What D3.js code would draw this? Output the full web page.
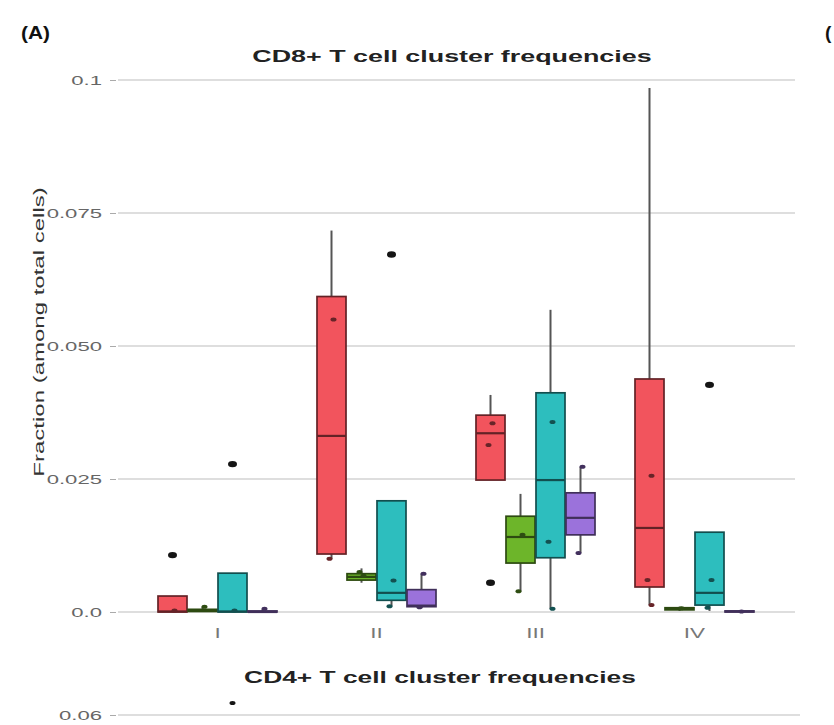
<!DOCTYPE html>
<html>
<head>
<meta charset="utf-8">
<script src="https://cdn.jsdelivr.net/npm/d3@7"></script>
<style>
  html, body { margin: 0; padding: 0; background: #fff; }
  svg { display: block; }
  text { font-family: "Liberation Sans", Arial, Helvetica, sans-serif; }
</style>
</head>
<body>
<svg id="chart" width="834" height="725"></svg>
<script>
// ---- data -------------------------------------------------------------
const clusters = ["I", "II", "III", "IV"];
const groupKeys = ["g1", "g2", "g3", "g4"];
const groupColors = ["#F2545D", "#6DB52A", "#2DBEBE", "#9B72DB"];

const yTicks = [0, 0.025, 0.05, 0.075, 0.1];
const yTickLabels = ["0.0", "0.025", "0.050", "0.075", "0.1"];

// box statistics, one row per group, one column per cluster
const lowerWhisker = [
  [0.0000, 0.0100, 0.0248, 0.0013],
  [0.0000, 0.0055, 0.0039, 0.0002],
  [0.0000, 0.0011, 0.0006, 0.0002],
  [0.0000, 0.0007, 0.0111, 0.0000]
];
const q1 = [
  [0.0000, 0.0109, 0.0248, 0.0047],
  [0.0001, 0.0060, 0.0092, 0.0004],
  [0.0000, 0.0022, 0.0102, 0.0013],
  [0.0000, 0.0010, 0.0145, 0.0000]
];
const median = [
  [0.0001, 0.0331, 0.0336, 0.0158],
  [0.0003, 0.0066, 0.0141, 0.0006],
  [0.0001, 0.0036, 0.0248, 0.0036],
  [0.0000, 0.0012, 0.0177, 0.0001]
];
const q3 = [
  [0.0030, 0.0593, 0.0370, 0.0438],
  [0.0005, 0.0072, 0.0180, 0.0008],
  [0.0073, 0.0209, 0.0412, 0.0150],
  [0.0002, 0.0042, 0.0224, 0.0002]
];
const upperWhisker = [
  [0.0030, 0.0717, 0.0408, 0.0985],
  [0.0010, 0.0082, 0.0222, 0.0010],
  [0.0073, 0.0209, 0.0568, 0.0150],
  [0.0005, 0.0072, 0.0273, 0.0003]
];
// [group, cluster, value]
const outliers = [
  [0, 0, 0.0107], [2, 0, 0.0278], [2, 1, 0.0672], [0, 2, 0.0055], [2, 3, 0.0427]
];
// individual samples drawn over the boxes
const samples = [
  [[0.0003], [0.0550, 0.0100], [0.0355, 0.0314], [0.0256, 0.0060, 0.0013]],
  [[0.0010], [0.0068, 0.0075], [0.0145, 0.0039], [0.0007]],
  [[0.0003], [0.0059, 0.0011], [0.0357, 0.0132, 0.0006], [0.0060, 0.0008]],
  [[0.0006], [0.0072, 0.0009], [0.0273, 0.0111], [0.0001]]
];

// second panel (only its top edge is in view)
const cd4Ticks = [0.06];
const cd4TickLabels = ["0.06"];
const cd4Outliers = [[2, 0, 0.0615]];

// ---- layout -----------------------------------------------------------
const svg = d3.select("#chart");
const stretch = 1.65;           // figure text is rendered wide
const gridX0 = 118, gridX1 = 795;

const x = d3.scaleBand().domain(clusters).range([138, 774]).padding(0);
const xInner = d3.scaleBand().domain(groupKeys).range([-60, 60]).padding(0);
const y = d3.scaleLinear().domain([0, 0.1]).range([612, 80]);
const y2 = d3.scaleLinear().domain([0, 0.06]).range([1200, 715]);

function cx(g, c) {
  return x(clusters[c]) + x.bandwidth() / 2 + xInner(groupKeys[g]) + xInner.bandwidth() / 2;
}
function widen(sel, k) {
  sel.each(function () {
    const w = this.getComputedTextLength();
    d3.select(this).attr("textLength", w * k).attr("lengthAdjust", "spacingAndGlyphs");
  });
}

// ---- panel labels and titles -----------------------------------------
svg.append("text").attr("x", 21).attr("y", 39)
  .attr("font-size", 19).attr("font-weight", "bold").attr("fill", "#111")
  .text("(A)").call(widen, 1.1);
svg.append("text").attr("x", 825).attr("y", 39)
  .attr("font-size", 19).attr("font-weight", "bold").attr("fill", "#111")
  .text("(");

svg.append("text").attr("x", 452).attr("y", 62)
  .attr("text-anchor", "middle").attr("font-size", 17).attr("font-weight", "bold")
  .attr("fill", "#222").text("CD8+ T cell cluster frequencies").call(widen, 1.58);

svg.append("text")
  .attr("transform", "translate(44,332) rotate(-90)")
  .attr("text-anchor", "middle").attr("font-size", 15).attr("fill", "#333")
  .text("Fraction (among total cells)").call(widen, 1.6);

// ---- y axis and grid ---------------------------------------------------
const yAxis = d3.axisLeft(y).tickValues(yTicks)
  .tickFormat((d, i) => yTickLabels[i]).tickSize(6).tickPadding(8);
const yg = svg.append("g").attr("transform", `translate(${gridX0 - 2},0)`).call(yAxis);
yg.select(".domain").remove();
yg.selectAll(".tick line").attr("stroke", "#aaa").attr("stroke-width", 1);
yg.selectAll(".tick text").attr("font-size", 13).attr("fill", "#666")
  .attr("font-family", "Liberation Sans, Arial, sans-serif").call(widen, 1.7);

svg.append("g").selectAll("line").data(yTicks).join("line")
  .attr("x1", gridX0).attr("x2", gridX1)
  .attr("y1", d => y(d)).attr("y2", d => y(d))
  .attr("stroke", "#dedede").attr("stroke-width", 2);

// ---- x axis ------------------------------------------------------------
const xAxis = d3.axisBottom(x).tickSize(0).tickPadding(15);
const xg = svg.append("g").attr("transform", `translate(0,${y(0)})`).call(xAxis);
xg.select(".domain").remove();
xg.selectAll(".tick text").attr("font-size", 15).attr("fill", "#777")
  .attr("font-family", "Liberation Sans, Arial, sans-serif").call(widen, 1.5);

// ---- boxes -------------------------------------------------------------
const cells = [];
groupKeys.forEach((k, g) => clusters.forEach((c, ci) => cells.push({ g, c: ci })));
const boxW = xInner.bandwidth() - 1;

const boxes = svg.append("g").selectAll("g").data(cells).join("g");
boxes.append("line")
  .attr("x1", d => cx(d.g, d.c)).attr("x2", d => cx(d.g, d.c))
  .attr("y1", d => y(upperWhisker[d.g][d.c])).attr("y2", d => y(q3[d.g][d.c]))
  .attr("stroke", "#555").attr("stroke-width", 2);
boxes.append("line")
  .attr("x1", d => cx(d.g, d.c)).attr("x2", d => cx(d.g, d.c))
  .attr("y1", d => y(q1[d.g][d.c])).attr("y2", d => y(lowerWhisker[d.g][d.c]))
  .attr("stroke", "#555").attr("stroke-width", 2);
boxes.append("rect")
  .attr("x", d => cx(d.g, d.c) - boxW / 2).attr("width", boxW)
  .attr("y", d => y(q3[d.g][d.c]))
  .attr("height", d => Math.max(1, y(q1[d.g][d.c]) - y(q3[d.g][d.c])))
  .attr("fill", d => groupColors[d.g])
  .attr("stroke", d => d3.color(groupColors[d.g]).darker(2.5))
  .attr("stroke-width", 1.7);
boxes.append("line")
  .attr("x1", d => cx(d.g, d.c) - boxW / 2).attr("x2", d => cx(d.g, d.c) + boxW / 2)
  .attr("y1", d => y(median[d.g][d.c])).attr("y2", d => y(median[d.g][d.c]))
  .attr("stroke", d => d3.color(groupColors[d.g]).darker(2.5))
  .attr("stroke-width", 2.2);

// individual samples
const pts = [];
samples.forEach((row, g) => row.forEach((vals, c) =>
  vals.forEach((v, i) => pts.push({ g, c, v, i }))));
svg.append("g").selectAll("ellipse").data(pts).join("ellipse")
  .attr("cx", d => cx(d.g, d.c) + (d.i % 2 ? -2 : 2))
  .attr("cy", d => y(d.v))
  .attr("rx", 3).attr("ry", 2)
  .attr("fill", d => d3.color(groupColors[d.g]).darker(2.4));

// outliers
svg.append("g").selectAll("ellipse").data(outliers).join("ellipse")
  .attr("cx", d => cx(d[0], d[1])).attr("cy", d => y(d[2]))
  .attr("rx", 4.5).attr("ry", 3.2).attr("fill", "#151515");

// ---- second panel (top edge) -----------------------------------------
svg.append("text").attr("x", 440).attr("y", 683)
  .attr("text-anchor", "middle").attr("font-size", 17).attr("font-weight", "bold")
  .attr("fill", "#222").text("CD4+ T cell cluster frequencies").call(widen, 1.55);

svg.append("g").selectAll("line").data(cd4Ticks).join("line")
  .attr("x1", gridX0).attr("x2", gridX1 + 5)
  .attr("y1", d => y2(d)).attr("y2", d => y2(d))
  .attr("stroke", "#dedede").attr("stroke-width", 2);
const y2g = svg.append("g").attr("transform", `translate(${gridX0 - 2},0)`)
  .call(d3.axisLeft(y2).tickValues(cd4Ticks).tickFormat((d, i) => cd4TickLabels[i])
    .tickSize(6).tickPadding(8));
y2g.select(".domain").remove();
y2g.selectAll(".tick line").attr("stroke", "#aaa");
y2g.selectAll(".tick text").attr("font-size", 13).attr("fill", "#666")
  .attr("font-family", "Liberation Sans, Arial, sans-serif").call(widen, 1.7);
svg.append("g").selectAll("ellipse").data(cd4Outliers).join("ellipse")
  .attr("cx", d => cx(d[0], d[1])).attr("cy", d => y2(d[2]))
  .attr("rx", 3).attr("ry", 2).attr("fill", "#151515");
</script>
</body>
</html>
